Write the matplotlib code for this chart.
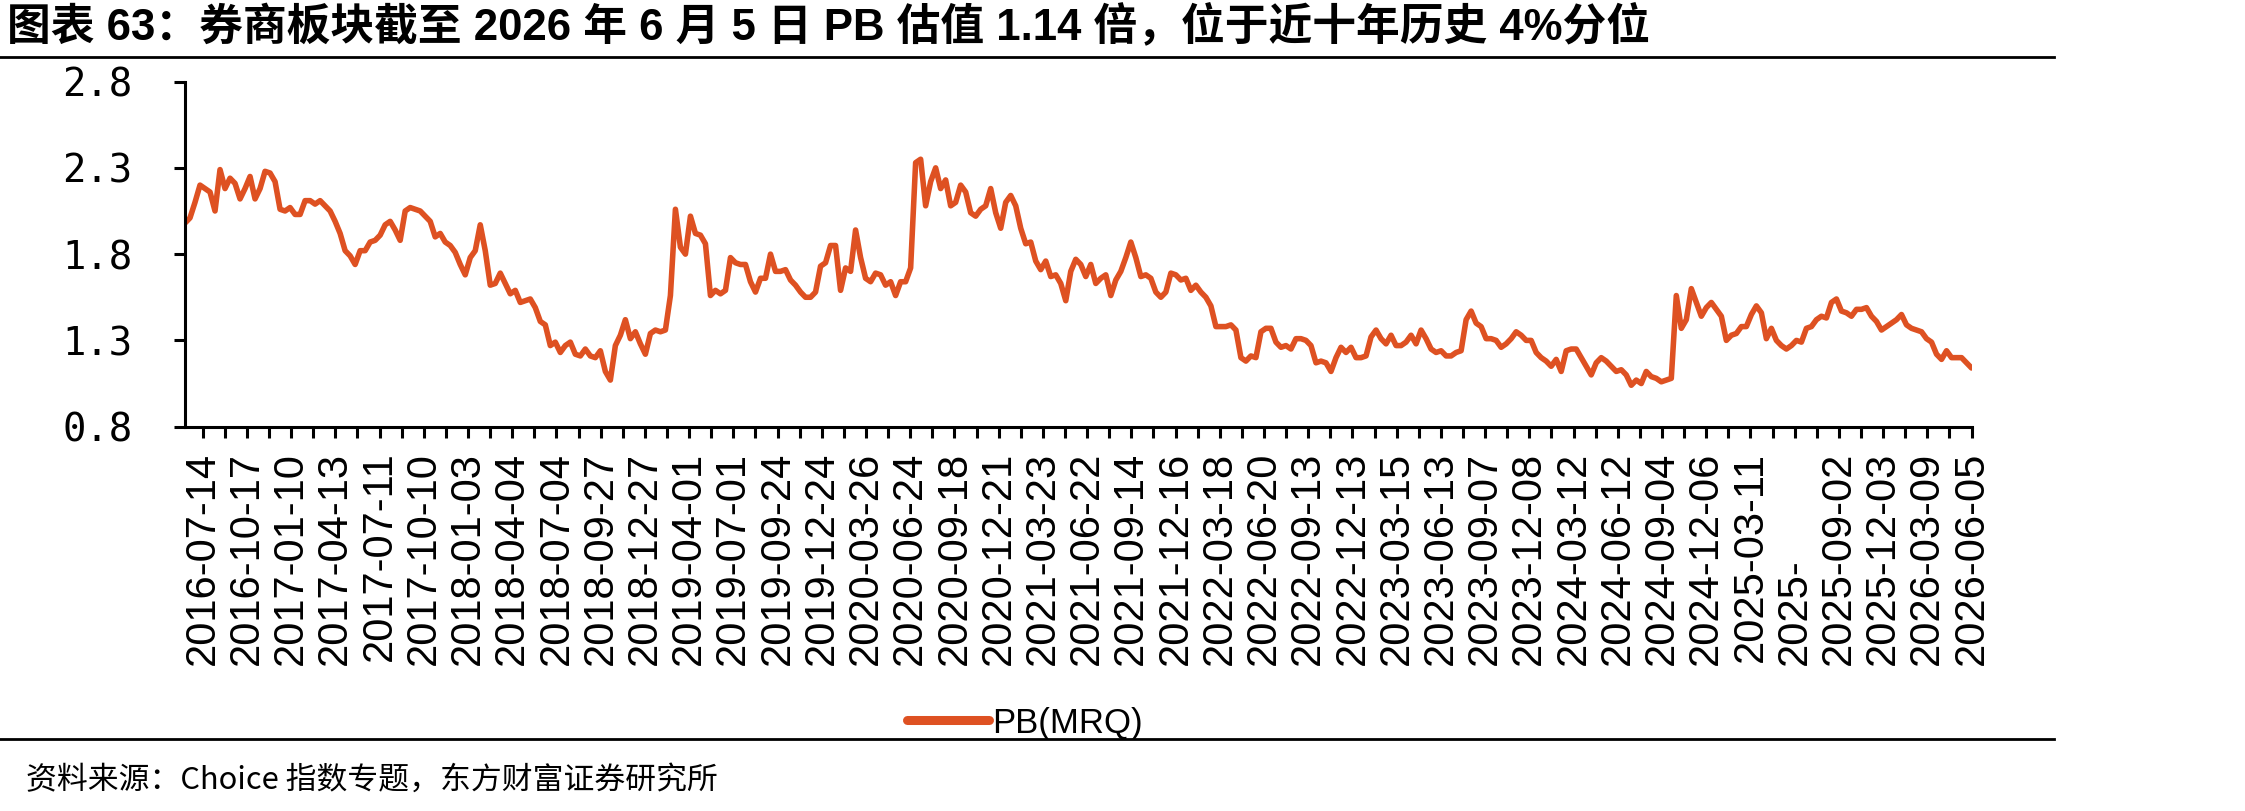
import numpy as np
import matplotlib
matplotlib.use('Agg')
import matplotlib.pyplot as plt
import matplotlib.transforms as mtransforms
from matplotlib.lines import Line2D

# 券商板块 PB(MRQ)，从图上读数，大约每 7 个交易日一个点（2016-06 ~ 2026-06-05）
pb = [
    # 2016-06 ~ 2018-01
    1.98, 2.01, 2.10, 2.20, 2.18, 2.16, 2.05, 2.29, 2.18, 2.24,
    2.21, 2.12, 2.18, 2.25, 2.12, 2.18, 2.28, 2.27, 2.22, 2.06,
    2.05, 2.07, 2.03, 2.03, 2.11, 2.11, 2.09, 2.11, 2.08, 2.05,
    1.99, 1.92, 1.82, 1.79, 1.74, 1.82, 1.82, 1.87, 1.88, 1.91,
    1.97, 1.99, 1.94, 1.88, 2.05, 2.07, 2.06, 2.05, 2.02, 1.99,
    1.90, 1.92, 1.87, 1.85, 1.81, 1.74, 1.68, 1.78, 1.82,
    # 2018-01 ~ 2019-09
    1.97, 1.82, 1.62, 1.63, 1.69, 1.63, 1.57, 1.59, 1.52, 1.53,
    1.54, 1.49, 1.41, 1.39, 1.27, 1.29, 1.23, 1.27, 1.29, 1.22,
    1.21, 1.25, 1.21, 1.20, 1.24, 1.12, 1.07, 1.27, 1.33, 1.42,
    1.31, 1.35, 1.28, 1.22, 1.34, 1.36, 1.35, 1.36, 1.56, 2.06,
    1.84, 1.80, 2.02, 1.92, 1.91, 1.86, 1.56, 1.59, 1.57, 1.59,
    1.78, 1.75, 1.74, 1.74, 1.64, 1.58, 1.66, 1.66, 1.80, 1.70,
    # 2019-09 ~ 2021-05
    1.70, 1.71, 1.65, 1.62, 1.58, 1.55, 1.55, 1.58, 1.73, 1.75,
    1.85, 1.85, 1.59, 1.72, 1.70, 1.94, 1.78, 1.66, 1.64, 1.69,
    1.68, 1.62, 1.64, 1.56, 1.64, 1.64, 1.72, 2.33, 2.35, 2.08,
    2.22, 2.30, 2.18, 2.23, 2.08, 2.10, 2.20, 2.16, 2.04, 2.02,
    2.06, 2.08, 2.18, 2.04, 1.95, 2.10, 2.14, 2.08, 1.95, 1.86,
    1.87, 1.76, 1.71, 1.76, 1.67, 1.68, 1.63, 1.53, 1.70, 1.77,
    # 2021-05 ~ 2022-12
    1.74, 1.67, 1.74, 1.63, 1.66, 1.68, 1.56, 1.65, 1.70, 1.78,
    1.87, 1.78, 1.67, 1.68, 1.66, 1.58, 1.55, 1.58, 1.69, 1.68,
    1.65, 1.66, 1.59, 1.62, 1.58, 1.55, 1.50, 1.38, 1.38, 1.38,
    1.39, 1.36, 1.20, 1.18, 1.21, 1.20, 1.35, 1.37, 1.37, 1.29,
    1.26, 1.27, 1.25, 1.31, 1.31, 1.30, 1.27, 1.17, 1.18, 1.17,
    1.12, 1.20, 1.26, 1.23, 1.26, 1.20, 1.20, 1.21, 1.32, 1.36,
    # 2022-12 ~ 2024-09
    1.31, 1.28, 1.33, 1.27, 1.27, 1.29, 1.33, 1.28, 1.36, 1.31,
    1.25, 1.23, 1.24, 1.21, 1.21, 1.23, 1.24, 1.42, 1.47, 1.40,
    1.38, 1.31, 1.31, 1.30, 1.26, 1.28, 1.31, 1.35, 1.33, 1.30,
    1.30, 1.23, 1.20, 1.18, 1.15, 1.19, 1.12, 1.24, 1.25, 1.25,
    1.20, 1.15, 1.10, 1.17, 1.20, 1.18, 1.15, 1.12, 1.13, 1.10,
    1.04, 1.07, 1.05, 1.12, 1.09, 1.08, 1.06, 1.07, 1.08, 1.56,
    # 2024-10 ~ 2026-06-05
    1.37, 1.42, 1.60, 1.52, 1.44, 1.49, 1.52, 1.48, 1.44, 1.30,
    1.33, 1.34, 1.38, 1.38, 1.45, 1.50, 1.46, 1.31, 1.37, 1.30,
    1.27, 1.25, 1.27, 1.30, 1.29, 1.37, 1.38, 1.42, 1.44, 1.43,
    1.52, 1.54, 1.47, 1.46, 1.44, 1.48, 1.48, 1.49, 1.44, 1.41,
    1.36, 1.38, 1.40, 1.42, 1.45, 1.39, 1.37, 1.36, 1.35, 1.31,
    1.29, 1.22, 1.19, 1.24, 1.20, 1.20, 1.20, 1.17, 1.14,
]

# 横轴：交易日序号，标签每 60 个交易日一个（最后一个是 2026-06-05）
n_days = 2425
label_step = 60
x_labels = [
    '2016-07-14', '2016-10-17', '2017-01-10', '2017-04-13', '2017-07-11',
    '2017-10-10', '2018-01-03', '2018-04-04', '2018-07-04', '2018-09-27',
    '2018-12-27', '2019-04-01', '2019-07-01', '2019-09-24', '2019-12-24',
    '2020-03-26', '2020-06-24', '2020-09-18', '2020-12-21', '2021-03-23',
    '2021-06-22', '2021-09-14', '2021-12-16', '2022-03-18', '2022-06-20',
    '2022-09-13', '2022-12-13', '2023-03-15', '2023-06-13', '2023-09-07',
    '2023-12-08', '2024-03-12', '2024-06-12', '2024-09-04', '2024-12-06',
    '2025-03-11', '2025-', '2025-09-02', '2025-12-03', '2026-03-09',
    '2026-06-05',
]
y_ticks = [0.8, 1.3, 1.8, 2.3, 2.8]

title = '图表 63：券商板块截至 2026 年 6 月 5 日 PB 估值 1.14 倍，位于近十年历史 4%分位'
source = '资料来源：Choice 指数专题，东方财富证券研究所'
line_color = '#DE5122'

# ---------------- 画图 ----------------
fig = plt.figure(figsize=(22.45, 8.11), dpi=100)
ax = fig.add_axes([0.0824, 0.4739, 0.7958, 0.4255])

x = np.linspace(0, n_days - 1, len(pb))
ax.plot(x, pb, color=line_color, lw=4.0, solid_joinstyle='round', solid_capstyle='round')

ax.set_xlim(0, n_days - 1)
ax.set_ylim(0.8, 2.8)

major = np.arange(n_days - 1, -1, -label_step)[::-1]
minor = np.arange(n_days - 1 - label_step // 2, -1, -label_step)[::-1]
ax.set_xticks(major)
ax.set_xticks(minor, minor=True)
ax.set_xticklabels(x_labels, rotation=90, fontfamily='Liberation Sans', fontsize=30)

ax.set_yticks(y_ticks)
ax.set_yticklabels([f'{v:.1f}' for v in y_ticks], fontfamily='DejaVu Sans Mono', fontsize=28)

ax.tick_params(axis='both', which='both', direction='out', length=8, width=2.2, color='black')
ax.tick_params(axis='y', pad=30)
ax.tick_params(axis='x', pad=10)

for s in ['top', 'right']:
    ax.spines[s].set_visible(False)
for s in ['left', 'bottom']:
    ax.spines[s].set_linewidth(2.2)

# "2025-" 这个标签在原图里和其它标签一样从底部对齐
lbl = ax.get_xticklabels()[x_labels.index('2025-')]
shift = 2.557 * 30 / 72
lbl.set_transform(lbl.get_transform() + mtransforms.ScaledTranslation(0, -shift, fig.dpi_scale_trans))

# 图例
handle = Line2D([], [], color=line_color, lw=6.5, solid_capstyle='round')
fig.legend([handle], ['PB(MRQ)'], loc='center', bbox_to_anchor=(0.4566, 0.1085),
           frameon=False, prop={'family': 'Liberation Sans', 'size': 25},
           handlelength=2.36, handletextpad=0.1)

# 标题、分隔线、资料来源
fig.text(0.003, 0.967, title, fontsize=31.5, fontweight='bold',
         family=['Liberation Sans', 'Noto Sans CJK SC'], va='center', ha='left')
fig.add_artist(Line2D([0, 0.915], [0.9297, 0.9297], color='black', lw=2, transform=fig.transFigure))
fig.add_artist(Line2D([0, 0.915], [0.0888, 0.0888], color='black', lw=2, transform=fig.transFigure))
fig.text(0.0116, 0.038, source, fontsize=22.2, family=['Noto Sans CJK SC', 'DejaVu Sans'],
         va='center', ha='left')

fig.savefig('out.png', dpi=100)
